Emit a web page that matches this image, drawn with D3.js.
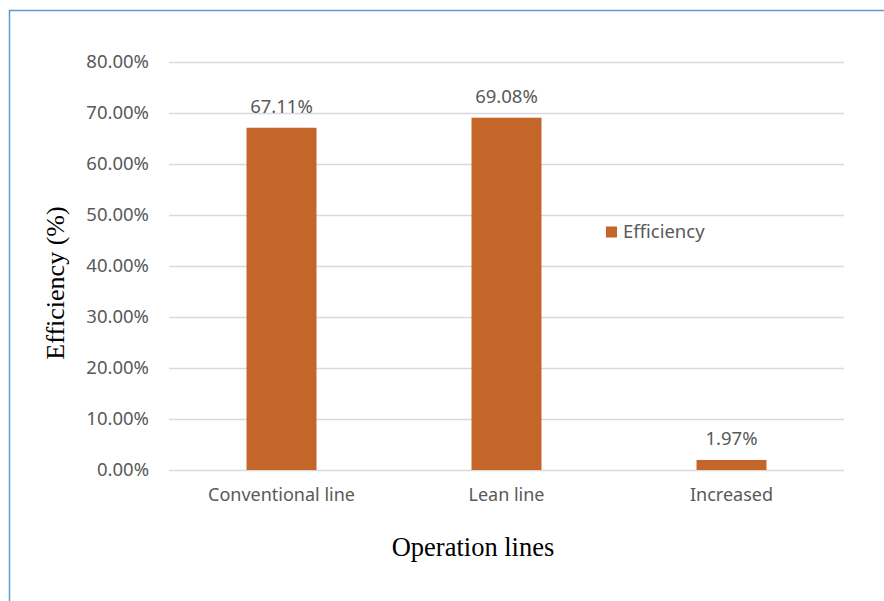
<!DOCTYPE html>
<html>
<head>
<meta charset="utf-8">
<script src="https://cdn.jsdelivr.net/npm/d3@7"></script>
<style>
  body { margin: 0; background: #fff; }
  svg { display: block; }
  .tick text { font-family: "Noto Sans", sans-serif; font-size: 18.5px; fill: #595959; }
  .x-axis .tick text { font-size: 18px; }
</style>
</head>
<body>
<div id="chart"></div>
<script>
// chart data
const categories = ["Conventional line", "Lean line", "Increased"];
const efficiency = [67.11, 69.08, 1.97];
const yTicks = [0, 10, 20, 30, 40, 50, 60, 70, 80];
const seriesName = "Efficiency";

let margin = {top: 62, right: 40, bottom: 131, left: 169};
let fullWidth = 884, fullHeight = 601;
let width = fullWidth - margin.left - margin.right,
    height = fullHeight - margin.top - margin.bottom;

const svgRoot = d3.select("#chart")
  .append("svg")
    .attr("width", fullWidth)
    .attr("height", fullHeight);

// frame border (left + top visible)
svgRoot.append("path")
  .attr("d", "M9.5," + fullHeight + "V10.5H" + fullWidth)
  .attr("fill", "none")
  .attr("stroke", "#5b9bd5")
  .attr("stroke-width", 1.5);

const svg = svgRoot.append("g")
  .attr("transform", "translate(" + margin.left + "," + margin.top + ")");

const x = d3.scaleBand()
  .range([0, width])
  .domain(categories)
  .paddingInner(0.689)
  .paddingOuter(0.3445);

const y = d3.scaleLinear()
  .domain([0, 80])
  .range([height, 0]);

// gridlines
svg.append("g")
  .selectAll("line")
  .data(yTicks)
  .enter()
  .append("line")
    .attr("x1", 0)
    .attr("x2", width)
    .attr("y1", d => Math.round(y(d)) + 0.5)
    .attr("y2", d => Math.round(y(d)) + 0.5)
    .attr("stroke", "#d9d9d9")
    .attr("stroke-width", 1.3);

// y axis labels
svg.append("g")
  .call(d3.axisLeft(y).tickValues(yTicks).tickSize(0).tickPadding(20)
    .tickFormat(d => d3.format(".2f")(d) + "%"))
  .call(g => g.select(".domain").remove());

// x axis labels
svg.append("g")
  .attr("class", "x-axis")
  .attr("transform", "translate(0," + height + ")")
  .call(d3.axisBottom(x).tickSize(0).tickPadding(18))
  .call(g => g.select(".domain").remove());

// bars
svg.selectAll("barEff")
  .data(categories)
  .enter()
  .append("rect")
    .attr("x", d => x(d))
    .attr("y", (d, i) => y(efficiency[i]))
    .attr("width", x.bandwidth())
    .attr("height", (d, i) => height - y(efficiency[i]))
    .attr("fill", "#c4652a");

// data labels
svg.selectAll("barLabel")
  .data(categories)
  .enter()
  .append("text")
    .attr("x", d => x(d) + x.bandwidth() / 2)
    .attr("y", (d, i) => y(efficiency[i]) - 15)
    .attr("text-anchor", "middle")
    .style("font-family", "Noto Sans, sans-serif")
    .style("font-size", "18.5px")
    .style("fill", "#595959")
    .text((d, i) => d3.format(".2f")(efficiency[i]) + "%");

// legend
const legend = svg.append("g")
  .attr("transform", "translate(" + (606 - margin.left) + "," + (232 - margin.top) + ")");
legend.append("rect")
  .attr("x", 0).attr("y", -5.5)
  .attr("width", 11).attr("height", 11)
  .attr("fill", "#c4652a");
legend.append("text")
  .attr("x", 17).attr("y", 0)
  .attr("dy", "0.35em")
  .style("font-family", "Noto Sans, sans-serif")
  .style("font-size", "18.5px")
  .style("fill", "#595959")
  .text(seriesName);

// axis titles
svgRoot.append("text")
  .attr("transform", "translate(55,283) rotate(-90)")
  .attr("text-anchor", "middle")
  .attr("dy", "0.35em")
  .style("font-family", "Liberation Serif, Times New Roman, serif")
  .style("font-size", "26px")
  .style("fill", "#000")
  .text("Efficiency (%)");

svgRoot.append("text")
  .attr("x", 473)
  .attr("y", 556)
  .attr("text-anchor", "middle")
  .style("font-family", "Liberation Serif, Times New Roman, serif")
  .style("font-size", "26.5px")
  .style("fill", "#000")
  .text("Operation lines");
</script>
</body>
</html>
